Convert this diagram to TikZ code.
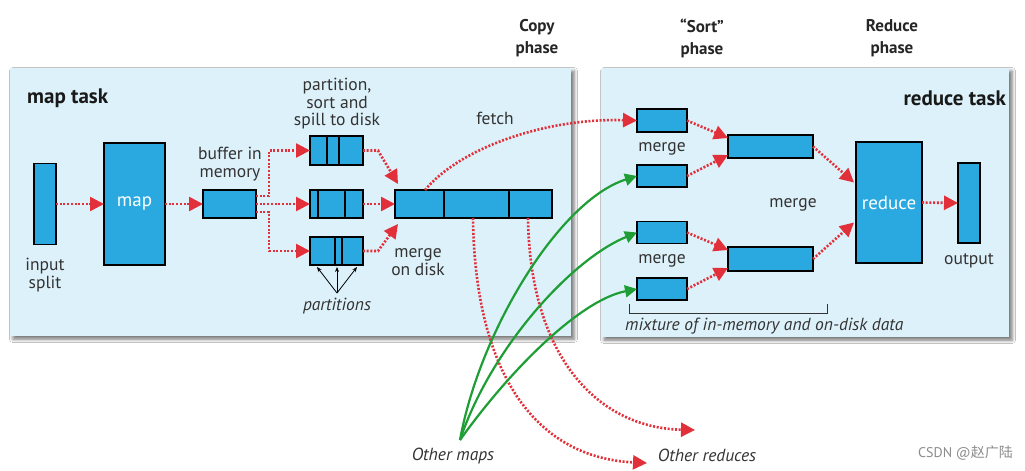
\documentclass[tikz,border=0pt]{standalone}
\usepackage{fontspec}
\setmainfont{PT Sans}
\newfontfamily\cjkfont{Noto Sans CJK SC}
\usetikzlibrary{arrows.meta,calc,shadows.blur}
\definecolor{boxblue}{HTML}{2AA9E0}
\definecolor{panelblue}{HTML}{DDF1FA}
\definecolor{dotred}{HTML}{E2303A}
\definecolor{grn}{HTML}{1E9E34}
\definecolor{txt}{HTML}{333333}
\begin{document}
\begin{tikzpicture}[x=1pt,y=-1pt,
  bx/.style={draw=black, line width=1.7pt, fill=boxblue, inner sep=0pt, outer sep=0pt},
  divider/.style={draw=black, line width=1.7pt},
  rarr/.style={draw=dotred, line width=2.6pt, dash pattern=on 2pt off 1.7pt, -{Triangle[length=14pt,width=14pt]}},
  garr/.style={draw=grn, line width=2.2pt, -{Triangle[length=12pt,width=12pt]}},
  karr/.style={draw=black, line width=0.8pt, -{Stealth[length=5pt,width=4pt]}},
  lab/.style={font=\fontsize{17.5}{17.5}\selectfont, text=txt, align=center, inner sep=0pt},
  ilab/.style={font=\fontsize{17.5}{17.5}\selectfont\itshape, text=txt, align=center, inner sep=0pt},
  boldlab/.style={font=\fontsize{21}{22}\selectfont\bfseries, text=black!90, inner sep=0pt},
  phaselab/.style={font=\fontsize{17}{22}\selectfont\bfseries, text=black!85, align=center, inner sep=0pt},
  wlab/.style={font=\fontsize{19}{20}\selectfont, text=white}
]
\useasboundingbox (0,0) rectangle (1025,471);
\fill[white] (0,0) rectangle (1025,471);

% panels
\fill[panelblue, blur shadow={shadow xshift=3pt, shadow yshift=-3pt, shadow blur radius=3.5pt, shadow opacity=55}] (10,68) rectangle (571,336);
\fill[panelblue, blur shadow={shadow xshift=3pt, shadow yshift=-3pt, shadow blur radius=3.5pt, shadow opacity=55}] (601,68) rectangle (1009,337);

% phase labels
\node[phaselab] (copyph) at (537,38) {Copy\\phase};
\node[phaselab] (sortph) at (702,38) {“Sort”\\phase};
\node[phaselab] (redph) at (892,38) {Reduce\\phase};

% task labels
\node[boldlab, anchor=west] (maptask) at (27,98) {map task};
\node[boldlab, anchor=east] (redtask) at (1006,98) {reduce task};

% map side boxes
\node[bx, minimum width=22pt, minimum height=81pt] (split) at (45,204) {};
\node[bx, minimum width=61pt, minimum height=122pt, wlab] (map) at (134.5,204) {map};
\node[bx, minimum width=53pt, minimum height=28pt] (buf) at (229.5,204) {};
\node[bx, minimum width=53pt, minimum height=29pt] (sp1) at (336.5,150.5) {};
\node[bx, minimum width=53pt, minimum height=28pt] (sp2) at (336.5,204) {};
\node[bx, minimum width=53pt, minimum height=28pt] (sp3) at (336.5,251) {};
\node[bx, minimum width=157pt, minimum height=28pt] (disk) at (473.5,204) {};

\draw[divider] ($(sp1.north west)+(17,0)$) -- ($(sp1.south west)+(17,0)$);
\draw[divider] ($(sp1.north west)+(29,0)$) -- ($(sp1.south west)+(29,0)$);
\draw[divider] ($(sp2.north west)+(8,0)$) -- ($(sp2.south west)+(8,0)$);
\draw[divider] ($(sp2.north west)+(35,0)$) -- ($(sp2.south west)+(35,0)$);
\draw[divider] ($(sp3.north west)+(25,0)$) -- ($(sp3.south west)+(25,0)$);
\draw[divider] ($(sp3.north west)+(32,0)$) -- ($(sp3.south west)+(32,0)$);
\draw[divider] ($(disk.north west)+(49,0)$) -- ($(disk.south west)+(49,0)$);
\draw[divider] ($(disk.north west)+(114,0)$) -- ($(disk.south west)+(114,0)$);

% map side labels
\node[lab] (splitlab) at (45,275) {input\\split};
\node[lab] (buflab) at (230,164) {buffer in\\memory};
\node[lab] (spilllab) at (337,104) {partition,\\sort and\\spill to disk};
\node[lab] (mergedisk) at (418,262) {merge\\on disk};
\node[ilab] (partlab) at (337,306) {partitions};
\node[lab] (fetchlab) at (495,118) {fetch};

% partitions arrows
\coordinate (papex) at (337,293);
\draw[karr] (papex) -- ($(sp3.south west)+(7,2)$);
\draw[karr] (papex) -- ($(sp3.south west)+(27,2)$);
\draw[karr] (papex) -- ($(sp3.south west)+(47,2)$);

% map side arrows
\draw[rarr] (split.east) -- (map.west);
\draw[rarr] (map.east) -- (buf.west);
\draw[rarr] ($(buf.east)+(0,-8)$) -| ($(sp1.west)+(-41,0)$) -- (sp1.west);
\draw[rarr] (buf.east) -- (sp2.west);
\draw[rarr] ($(buf.east)+(0,8)$) -| ($(sp3.west)+(-41,0)$) -- (sp3.west);
\draw[rarr] (sp1.east) -- ++(15,0) -- ($(disk.north west)+(3,-6)$);
\draw[rarr] (sp2.east) -- (disk.west);
\draw[rarr] (sp3.east) -- ++(15,0) -- ($(disk.south west)+(3,6)$);

% reduce side boxes
\node[bx, minimum width=50pt, minimum height=23pt] (m1) at (662,120.5) {};
\node[bx, minimum width=50pt, minimum height=22pt] (m2) at (662,176) {};
\node[bx, minimum width=50pt, minimum height=22pt] (m3) at (662,232.5) {};
\node[bx, minimum width=50pt, minimum height=22pt] (m4) at (662,289) {};
\node[bx, minimum width=85pt, minimum height=23pt] (mm1) at (770.5,146.5) {};
\node[bx, minimum width=85pt, minimum height=24pt] (mm2) at (770.5,259) {};
\node[bx, minimum width=66pt, minimum height=121pt, wlab] (red) at (889,202.5) {reduce};
\node[bx, minimum width=22pt, minimum height=80pt] (out) at (969,203) {};

% reduce side labels
\node[lab] (mlab1) at (662,149) {merge};
\node[lab] (mlab2) at (662,261) {merge};
\node[lab] (mlab3) at (793,205) {merge};
\node[lab] (outlab) at (969,261) {output};
\node[ilab, anchor=west] (mixlab) at (625,326) {mixture of in-memory and on-disk data};

% bracket
\coordinate (brl) at (629,304);
\coordinate (brr) at (827,304);
\draw[black!80, line width=0.9pt] (brl) -- ++(0,9) -- ($(brr)+(0,9)$) -- (brr);

% reduce side arrows
\draw[rarr] (m1.east) -- ($(mm1.north west)+(0,3)$);
\draw[rarr] (m2.east) -- ($(mm1.south west)+(0,-3)$);
\draw[rarr] (m3.east) -- ($(mm2.north west)+(0,3)$);
\draw[rarr] (m4.east) -- ($(mm2.south west)+(0,-3)$);
\draw[rarr] (mm1.east) -- ($(red.west)+(-2,-20)$);
\draw[rarr] (mm2.east) -- ($(red.west)+(-2,20)$);
\draw[rarr] (red.east) -- (out.west);

% fetch and other reduces
\draw[rarr] ($(disk.north west)+(30,0)$) .. controls (460,148) and (545,118) .. (m1.west);
\coordinate (or1) at (647,463);
\coordinate (or2) at (695,430);
\draw[rarr] ($(disk.south west)+(78,0)$) .. controls (475,380) and (540,458) .. (or1);
\draw[rarr] ($(disk.south west)+(133,0)$) .. controls (530,360) and (600,428) .. (or2);

% other maps (green)
\coordinate (om) at (460,440);
\draw[garr] (om) .. controls (480,330) and (560,200) .. (m2.west);
\draw[garr] (om) .. controls (490,350) and (570,260) .. (m3.west);
\draw[garr] (om) .. controls (510,370) and (580,300) .. (m4.west);

\node[ilab] (omlab) at (453,456) {Other maps};
\node[ilab] (orlab) at (707,455) {Other reduces};

% watermark
\node[anchor=east, inner sep=0pt, text=black!45, font=\fontsize{14}{14}\selectfont] (wm) at (1013,453) {CSDN @\cjkfont 赵广陆};
\end{tikzpicture}
\end{document}
